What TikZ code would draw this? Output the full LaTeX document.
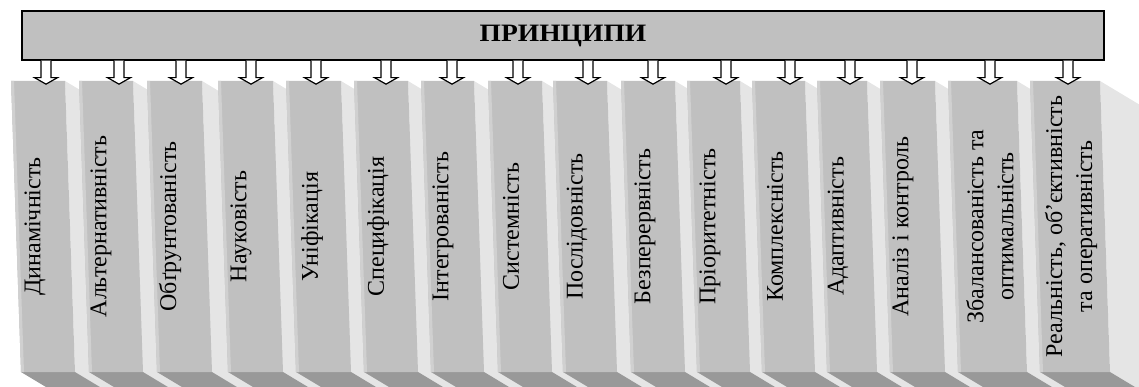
\documentclass[tikz,border=0pt]{standalone}
\usepackage{fontspec}
\setmainfont{Liberation Serif}
\usetikzlibrary{calc}
\definecolor{frontc}{HTML}{C0C0C0}
\definecolor{sidec}{HTML}{E5E5E5}
\definecolor{bottomc}{HTML}{999999}
\definecolor{bevelc}{HTML}{D0D0D0}
\begin{document}
\begin{tikzpicture}[x=1pt,y=-1pt,
  sideface/.style={fill=sidec},
  bottomface/.style={fill=bottomc},
  frontface/.style={fill=frontc},
  bevel/.style={fill=bevelc},
  lbl/.style={rotate=90,inner sep=0pt,align=center,font=\fontsize{24}{30}\selectfont},
  topbox/.style={draw=black,fill=frontc,line width=1.3pt,minimum width=1082pt,minimum height=49pt,inner sep=0pt,font=\bfseries\fontsize{25}{28}\selectfont},
  blockarrow/.style={draw=black,fill=white,line width=1.2pt,line join=miter}]
\useasboundingbox (0,0) rectangle (1139,387);
\begin{scope}
\clip (0,0) rectangle (1139,387);
\foreach \L/\R in {21/75,89/143,157/212,228/283,296/351,364/418,431/484,498/552,563/617,631/685,697/750,762/815,827/877,890/945,958/1027,1040/1110}{
  \path[sideface] (\R-10,81) -- (\R,372) -- ++(80,48) -- (\R+70,129) -- cycle;
  \path[bottomface] (\L,372) -- (\R,372) -- ++(80,48) -- (\L+80,420) -- cycle;
  \path[frontface] (\L-10,81) -- (\R-10,81) -- (\R,372) -- (\L,372) -- cycle;
  \path[bevel] (\L-10,81) -- (\L-7,81) -- (\L+3,372) -- (\L,372) -- cycle;
}
\end{scope}
\node[topbox] (top) at (563,35.5) {\scalebox{1.1}[1]{ПРИНЦИПИ}};
\node[lbl] (t1) at (35,226.5) {Динамічність};
\node[lbl] (t2) at (101,226.5) {Альтернативність};
\node[lbl] (t3) at (170,226.5) {Обґрунтованість};
\node[lbl] (t4) at (241,226.5) {Науковість};
\node[lbl] (t5) at (312,226.5) {Уніфікація};
\node[lbl] (t6) at (378,226.5) {Специфікація};
\node[lbl] (t7) at (443,226.5) {Інтегрованість};
\node[lbl] (t8) at (511,226.5) {Системність};
\node[lbl] (t9) at (577,226.5) {Послідовність};
\node[lbl] (t10) at (645,226.5) {Безперервність};
\node[lbl] (t11) at (710,226.5) {Пріоритетність};
\node[lbl] (t12) at (775,226.5) {Комплексність};
\node[lbl] (t13) at (838,226.5) {Адаптивність};
\node[lbl] (t14) at (903,226.5) {Аналіз і контроль};
\node[lbl] (t15) at (990,226.5) {Збалансованість та\\оптимальність};
\node[lbl] (t16) at (1071,226.5) {Реальність, об’єктивність\\та оперативність};
\foreach \x [count=\i] in {46,119,181,251,316,386,452,518,588,653,726,790,850,912,990,1068}{
  \coordinate (a\i) at (top.south -| \x,0);
  \path[blockarrow] ($(a\i)+(-5,0)$) -- ++(0,17) -- ++(-6.5,0) -- ++(11.5,6.5) -- ++(11.5,-6.5) -- ++(-6.5,0) -- ++(0,-17);
}
\end{tikzpicture}
\end{document}
